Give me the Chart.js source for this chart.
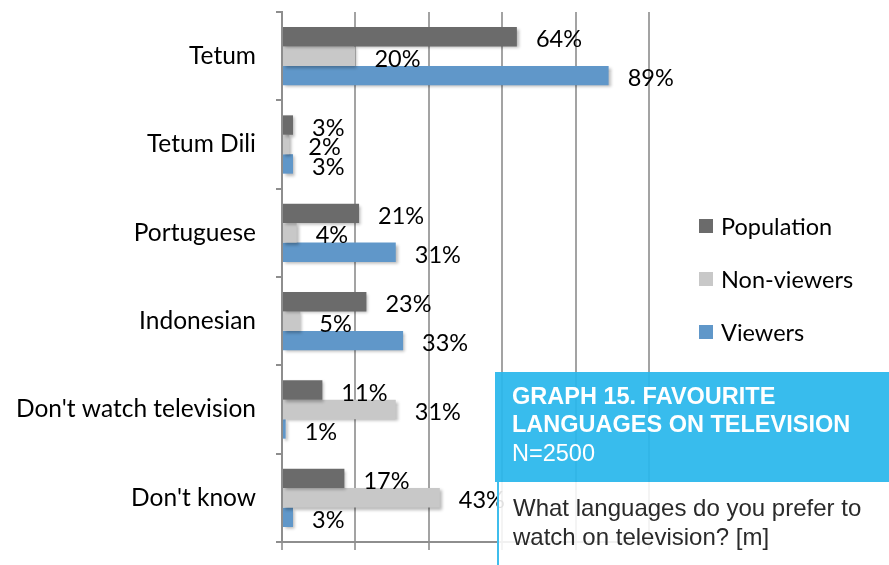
<!DOCTYPE html>
<html>
<head>
<meta charset="utf-8">
<script src="https://cdn.jsdelivr.net/npm/chart.js@4"></script>
<style>
html, body { margin: 0; padding: 0; background: #fff; }
#wrap { position: relative; width: 889px; height: 565px; overflow: hidden; }
#languages { display: block; }
.note { position: absolute; left: 495px; top: 372px; width: 400px; font-family: "Liberation Sans", Arial, sans-serif; }
.note-head { background: rgba(41, 183, 236, 0.93); color: #fff; font-size: 23.5px; line-height: 28.5px; padding: 9.5px 0 15px 17px; }
.note-head b { font-weight: bold; }
.note-body { margin-left: 2px; border-left: 2px solid #3fbdec; background: rgba(255, 255, 255, 0.88); color: #2a2a2a; font-size: 24px; line-height: 29px; padding: 11px 0 20px 14px; height: 100px; }
</style>
</head>
<body>
<div id="wrap">
  <canvas id="languages" width="889" height="565"></canvas>
  <div class="note">
    <div class="note-head"><b>GRAPH 15. FAVOURITE<br>LANGUAGES ON TELEVISION</b><br>N=2500</div>
    <div class="note-body">What languages do you prefer to<br>watch on television? [m]</div>
  </div>
</div>
<script>
// Data
const categories = ['Tetum', 'Tetum Dili', 'Portuguese', 'Indonesian', "Don't watch television", "Don't know"];
const populationValues = [64, 3, 21, 23, 11, 17];
const nonViewerValues = [20, 2, 4, 5, 31, 43];
const viewerValues = [89, 3, 31, 33, 1, 3];
const seriesNames = ['Population', 'Non-viewers', 'Viewers'];
const seriesColors = ['#6b6b6b', '#c8c8c8', '#6097c9'];

const labelFont = '23.5px Lato';

// Soft shadow under the bars
const barShadow = {
    id: 'barShadow',
    beforeDatasetsDraw(chart) {
        const ctx = chart.ctx;
        ctx.save();
        ctx.shadowColor = 'rgba(0, 0, 0, 0.28)';
        ctx.shadowOffsetX = 2;
        ctx.shadowOffsetY = 2;
        ctx.shadowBlur = 3;
    },
    afterDatasetsDraw(chart) {
        chart.ctx.restore();
    }
};

// Value labels at the end of every bar
const valueLabels = {
    id: 'valueLabels',
    afterDatasetsDraw(chart) {
        const ctx = chart.ctx;
        ctx.save();
        ctx.font = labelFont;
        ctx.fillStyle = '#000';
        ctx.textBaseline = 'middle';
        chart.data.datasets.forEach((ds, i) => {
            chart.getDatasetMeta(i).data.forEach((bar, j) => {
                ctx.fillText(ds.data[j] + '%', bar.x + 19, bar.y + 3);
            });
        });
        ctx.restore();
    }
};

// Legend drawn on the right side, stacked vertically
const sideLegend = {
    id: 'sideLegend',
    afterDraw(chart) {
        const ctx = chart.ctx;
        ctx.save();
        ctx.font = labelFont;
        ctx.textBaseline = 'middle';
        chart.data.datasets.forEach((ds, i) => {
            const y = 226 + i * 53;
            ctx.fillStyle = ds.backgroundColor;
            ctx.fillRect(699, y - 7, 14, 14);
            ctx.fillStyle = '#000';
            ctx.fillText(ds.label, 721, y + 1);
        });
        ctx.restore();
    }
};

const languagesConfig = {
    type: 'bar',
    data: {
        labels: categories,
        datasets: [
            { label: seriesNames[0], data: populationValues, backgroundColor: seriesColors[0] },
            { label: seriesNames[1], data: nonViewerValues, backgroundColor: seriesColors[1] },
            { label: seriesNames[2], data: viewerValues, backgroundColor: seriesColors[2] }
        ]
    },
    options: {
        indexAxis: 'y',
        responsive: false,
        animation: false,
        layout: { padding: { top: 12, right: 240, left: 0, bottom: 0 } },
        datasets: { bar: { categoryPercentage: 0.66, barPercentage: 1.0 } },
        plugins: {
            legend: { display: false },
            tooltip: { enabled: false }
        },
        scales: {
            x: {
                min: 0,
                max: 100,
                ticks: { stepSize: 20, display: false },
                grid: { color: '#a3a3a3', lineWidth: 2, tickLength: 8 },
                border: { color: '#8e8e8e', width: 2 },
                afterFit(scale) {
                    scale.height = 23;
                    scale.paddingLeft = 0;
                    scale.paddingRight = 0;
                }
            },
            y: {
                grid: { drawOnChartArea: false, tickLength: 6, color: '#8e8e8e', lineWidth: 2, offset: true },
                border: { color: '#8e8e8e', width: 2 },
                ticks: { font: { family: 'Lato', size: 24.5 }, color: '#000', padding: 20 },
                afterFit(scale) {
                    scale.width = 282;
                    scale.paddingTop = 0;
                    scale.paddingBottom = 0;
                }
            }
        }
    },
    plugins: [barShadow, valueLabels, sideLegend]
};

const languagesChart = new Chart(document.getElementById('languages'), languagesConfig);
</script>
</body>
</html>
